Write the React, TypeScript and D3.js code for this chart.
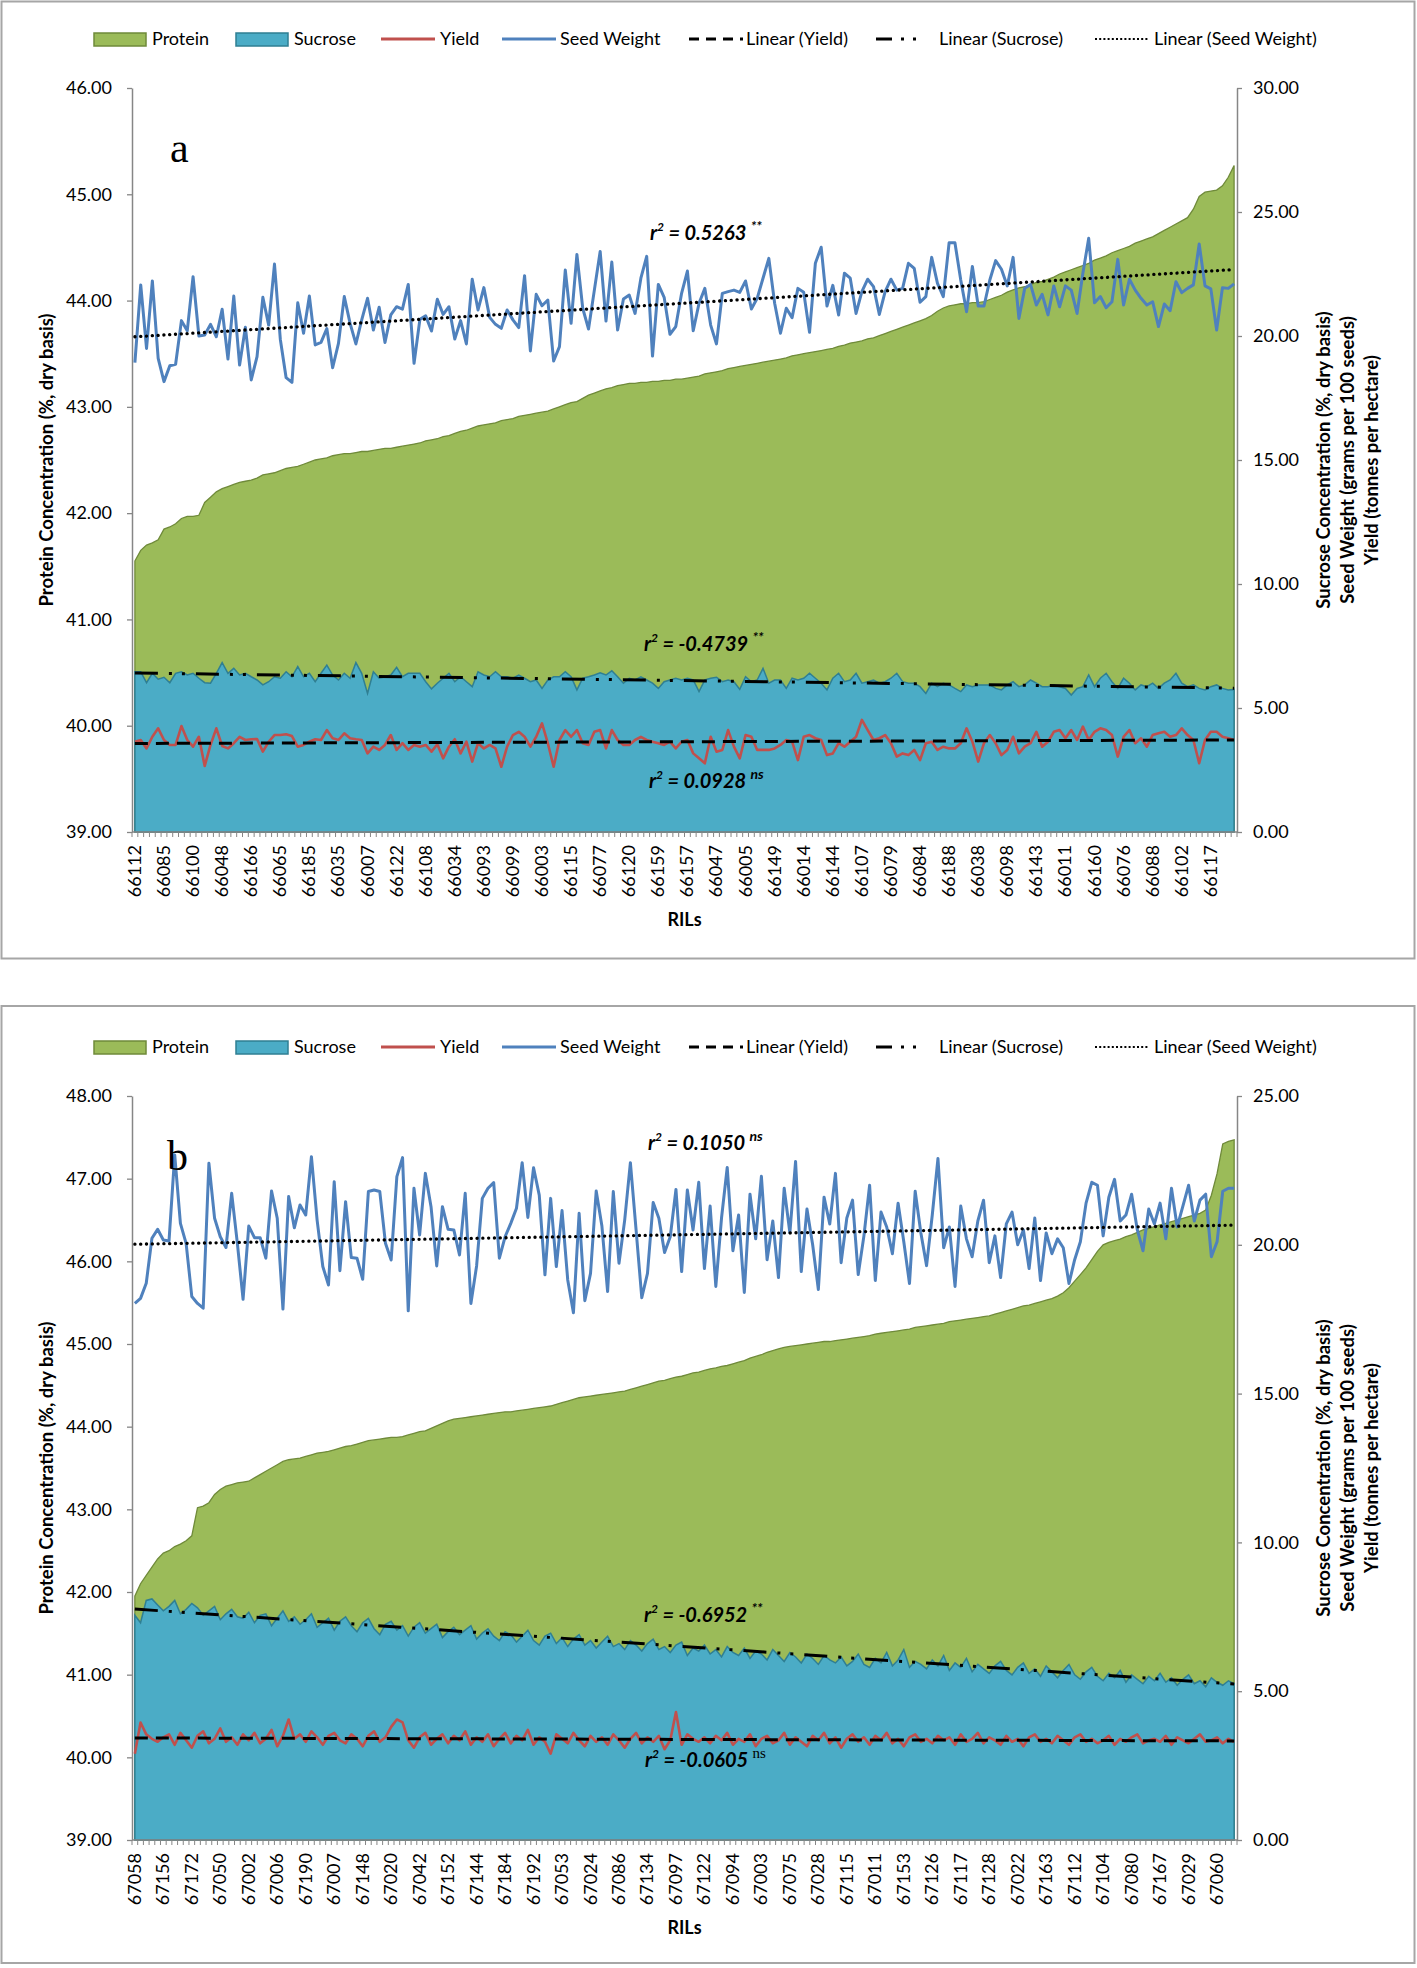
import React, { useEffect, useRef } from 'react';
import * as d3 from 'd3';

const W = 1417;
const H = 1968;
const FONT = "Lato, 'Open Sans', sans-serif";

// ---------------- Panel a ----------------
const labelsA = ['66112','66085','66100','66048','66166','66065','66185','66035','66007','66122','66108','66034','66093','66099','66003','66115','66077','66120','66159','66157','66047','66005','66149','66014','66144','66107','66079','66084','66188','66038','66098','66143','66011','66160','66076','66088','66102','66117'];

const proteinA = [41.55,41.65,41.70,41.72,41.75,41.85,41.87,41.90,41.95,41.97,41.97,41.98,42.10,42.15,42.20,42.23,42.25,42.27,42.29,42.30,42.31,42.33,42.36,42.37,42.38,42.40,42.42,42.43,42.44,42.46,42.48,42.50,42.51,42.52,42.54,42.55,42.56,42.56,42.57,42.58,42.58,42.59,42.60,42.61,42.61,42.62,42.63,42.64,42.65,42.66,42.68,42.69,42.70,42.72,42.73,42.75,42.77,42.78,42.80,42.82,42.83,42.84,42.85,42.87,42.88,42.89,42.91,42.92,42.93,42.94,42.95,42.96,42.98,43.00,43.02,43.04,43.05,43.08,43.11,43.13,43.15,43.17,43.18,43.20,43.21,43.22,43.22,43.23,43.23,43.24,43.24,43.25,43.25,43.26,43.26,43.27,43.28,43.29,43.31,43.32,43.33,43.34,43.36,43.37,43.38,43.39,43.40,43.41,43.42,43.43,43.44,43.45,43.46,43.48,43.49,43.50,43.51,43.52,43.53,43.54,43.55,43.57,43.58,43.60,43.61,43.62,43.64,43.65,43.67,43.69,43.71,43.73,43.75,43.77,43.79,43.81,43.83,43.86,43.90,43.93,43.95,43.96,43.97,43.97,43.98,43.98,43.99,44.01,44.03,44.05,44.08,44.10,44.12,44.13,44.15,44.17,44.18,44.20,44.22,44.25,44.27,44.29,44.31,44.33,44.35,44.38,44.40,44.42,44.45,44.47,44.49,44.51,44.54,44.56,44.58,44.60,44.63,44.66,44.69,44.72,44.75,44.78,44.86,44.98,45.02,45.03,45.04,45.08,45.16,45.27];

const sucroseA = [6.46,6.46,6.02,6.40,6.16,6.24,6.02,6.40,6.46,6.33,6.40,6.20,6.02,6.00,6.40,6.83,6.40,6.60,6.33,6.40,6.26,6.13,5.93,6.06,6.26,6.20,6.46,6.26,6.67,6.26,6.40,6.06,6.40,6.73,6.33,6.13,6.40,6.20,6.83,6.40,5.59,6.46,6.20,6.26,6.33,6.64,6.26,6.40,6.40,6.40,6.06,5.77,6.00,6.20,6.40,6.06,6.26,6.06,5.86,6.46,6.33,6.26,6.46,6.26,6.26,6.20,6.33,6.20,6.06,6.13,5.79,6.13,6.26,6.26,6.46,6.26,5.73,6.20,6.26,6.33,6.42,6.33,6.50,6.26,6.00,6.20,6.13,6.26,6.13,6.00,5.79,6.06,6.13,6.20,6.13,6.20,
6.13,5.66,6.13,6.20,6.24,6.06,6.13,6.06,5.75,6.26,6.06,6.13,6.60,6.00,6.13,6.13,5.79,6.20,6.13,6.20,6.40,6.20,6.00,5.73,6.20,6.40,6.06,6.13,6.40,6.00,6.06,6.13,6.00,6.06,6.20,6.40,6.06,6.00,6.00,5.86,5.59,6.00,5.86,6.00,5.93,5.79,5.66,5.93,5.86,5.93,5.93,5.93,5.79,5.73,5.93,6.06,5.86,5.93,6.13,6.00,5.86,5.86,5.93,5.86,5.79,5.52,5.79,5.86,6.33,5.86,6.20,6.40,6.06,5.79,6.20,6.00,5.73,5.93,5.86,6.00,5.79,6.00,6.13,6.40,6.00,5.86,5.93,5.79,5.73,5.86,5.93,5.79,5.73,5.75];

const yieldA = [3.64,3.71,3.37,3.84,4.18,3.71,3.51,3.51,4.27,3.71,3.44,3.84,2.66,3.51,4.18,3.47,3.37,3.58,3.84,3.71,3.74,3.75,3.24,3.64,3.91,3.91,3.94,3.87,3.44,3.51,3.64,3.74,3.71,4.11,3.78,3.71,3.98,3.78,3.74,3.71,3.17,3.44,3.31,3.51,3.91,3.31,3.58,3.31,3.51,3.44,3.51,3.24,3.54,2.97,3.44,3.74,3.17,3.64,2.84,3.58,3.37,3.51,3.37,2.63,3.44,3.91,4.04,3.84,3.44,3.84,4.38,3.58,2.63,3.71,4.11,3.84,4.11,3.58,3.51,4.04,4.11,3.37,4.11,3.71,3.51,3.51,3.71,3.84,3.71,3.64,3.58,3.51,3.64,3.37,3.64,3.71,
3.17,2.97,2.77,3.84,3.24,3.31,4.11,3.44,2.97,3.91,3.84,3.31,3.31,3.31,3.37,3.51,3.71,3.64,2.90,3.84,3.91,3.78,3.71,3.10,3.17,3.58,3.44,3.64,3.84,4.52,4.11,3.71,3.78,3.91,3.58,3.04,3.17,3.10,3.31,2.90,3.58,3.64,3.31,3.44,3.37,3.37,3.58,4.18,3.64,2.84,3.58,3.91,3.58,3.10,3.31,3.84,3.17,3.44,3.58,4.04,3.44,3.64,4.04,4.11,3.78,4.11,3.71,4.25,3.71,4.04,4.18,4.11,3.91,3.04,3.84,4.11,3.58,3.78,3.44,3.91,3.98,4.04,3.84,3.91,4.18,3.91,3.71,2.77,3.71,4.04,4.04,3.84,3.78,3.71];

const seedWeightA = [18.93,22.06,19.50,22.22,19.10,18.16,18.80,18.86,20.62,20.21,22.39,20.00,20.04,20.47,19.97,21.08,19.07,21.61,18.83,20.35,18.23,19.17,21.56,20.44,22.90,19.87,18.32,18.13,21.34,20.11,21.61,19.64,19.74,20.30,18.72,19.70,21.59,20.51,19.68,20.65,21.52,20.24,21.16,19.74,20.85,21.18,21.08,22.08,18.90,20.67,20.81,20.20,21.48,20.87,21.18,19.88,20.62,19.68,22.29,21.05,21.95,20.75,20.47,20.31,21.05,20.65,20.34,22.43,19.40,21.68,21.22,21.45,18.99,19.57,22.66,20.51,23.29,21.12,20.28,21.85,23.41,20.60,22.98,20.24,21.49,21.65,20.91,22.33,23.21,19.19,22.08,21.56,20.07,20.38,21.72,22.62,
20.21,21.32,21.92,20.44,19.68,21.72,21.79,21.85,21.76,22.22,21.09,21.52,22.33,23.13,21.32,20.11,21.12,20.74,21.92,21.76,20.15,22.93,23.58,21.21,22.04,20.85,22.53,22.33,20.91,21.79,22.29,21.99,20.87,21.79,22.29,21.85,21.92,22.93,22.73,21.36,21.59,23.17,22.12,21.59,23.76,23.76,22.26,20.98,22.80,21.21,21.21,22.26,23.04,22.69,22.02,23.17,20.71,21.92,22.08,21.25,21.68,20.85,22.02,21.18,22.02,21.85,20.91,22.53,23.94,21.34,21.59,21.14,21.38,23.09,21.25,22.29,21.85,21.52,21.25,21.38,20.38,21.29,21.02,22.19,21.75,21.92,22.06,23.71,22.02,21.90,20.24,21.95,21.92,22.10];

const trendYieldA = [3.57, 3.71];
const trendSucroseA = [6.41, 5.80];
const trendSeedA = [19.97, 22.68];
const r2A = ['0.5263', '-0.4739', '0.0928'];
const sigA = ['**', '**', 'ns'];

// ---------------- Panel b ----------------
const labelsB = ['67058','67156','67172','67050','67002','67006','67190','67007','67148','67020','67042','67152','67144','67184','67192','67053','67024','67086','67134','67097','67122','67094','67003','67075','67028','67115','67011','67153','67126','67117','67128','67022','67163','67112','67104','67080','67167','67029','67060'];

const proteinB = [41.95,42.10,42.20,42.30,42.40,42.47,42.50,42.55,42.58,42.62,42.68,43.02,43.04,43.08,43.18,43.24,43.28,43.30,43.32,43.33,43.34,43.38,43.42,43.46,43.50,43.54,43.58,43.60,43.61,43.62,43.64,43.66,43.68,43.69,43.70,43.72,43.74,43.76,43.77,43.79,43.81,43.83,43.84,43.85,43.86,43.87,43.87,43.88,43.90,43.92,43.94,43.95,43.98,44.01,44.04,44.07,44.09,44.10,44.11,44.12,44.13,44.14,44.15,44.16,44.17,44.18,44.18,44.19,44.20,44.21,44.22,44.23,44.24,44.25,44.27,44.29,44.31,44.33,44.35,44.36,44.37,44.38,44.39,44.40,44.41,44.42,44.43,44.45,44.47,44.49,44.51,44.53,44.55,44.56,44.58,44.60,44.61,44.63,44.65,44.66,44.68,44.70,44.71,44.73,44.74,44.76,44.78,44.80,44.83,44.85,44.87,44.90,44.92,44.94,44.96,44.97,44.98,44.99,45.00,45.01,45.02,45.03,45.03,45.04,45.05,45.06,45.07,45.08,45.09,45.10,45.12,45.13,45.14,45.15,45.16,45.17,45.18,45.20,45.21,45.22,45.23,45.24,45.25,45.27,45.28,45.29,45.30,45.31,45.32,45.33,45.34,45.36,45.38,45.40,45.42,45.44,45.46,45.47,45.49,45.51,45.53,45.55,45.58,45.62,45.68,45.76,45.84,45.92,46.02,46.12,46.20,46.23,46.25,46.27,46.30,46.32,46.35,46.38,46.40,46.42,46.44,46.46,46.48,46.50,46.52,46.54,46.56,46.58,46.62,46.80,47.06,47.42,47.45,47.47];

const sucroseB = [7.55,7.30,8.05,8.10,7.90,7.70,7.85,8.05,7.60,7.75,7.95,7.80,7.55,7.70,7.85,7.40,7.60,7.75,7.50,7.45,7.65,7.30,7.55,7.60,7.20,7.45,7.70,7.35,7.50,7.25,7.40,7.60,7.15,7.30,7.45,7.05,7.35,7.50,7.20,7.00,7.30,7.45,7.10,6.90,7.25,7.35,7.05,7.20,6.85,7.15,7.30,6.95,7.10,7.25,6.80,7.00,7.15,6.90,7.05,7.20,6.75,6.95,7.10,6.85,6.70,7.00,6.90,6.65,6.85,7.05,6.70,6.55,6.85,6.95,6.60,6.80,6.50,6.75,6.90,6.55,6.70,6.45,6.65,6.85,6.50,6.60,6.40,6.70,6.55,6.35,6.60,6.75,6.40,6.50,6.30,6.55,6.65,6.20,6.45,6.35,6.55,6.25,6.40,6.15,6.50,6.30,6.20,6.45,6.10,6.35,6.25,6.05,6.40,6.20,6.00,6.30,6.15,5.95,6.25,6.10,5.90,6.20,6.05,5.95,6.15,5.85,6.00,6.25,5.90,5.80,6.10,5.95,6.30,5.85,6.05,6.40,5.80,6.00,5.90,5.75,6.05,5.85,6.20,5.70,5.95,5.80,6.10,5.65,5.90,5.75,5.60,5.85,6.00,5.70,5.55,5.80,5.95,5.60,5.75,5.50,5.85,5.65,5.45,5.70,5.90,5.55,5.40,5.65,5.80,5.50,5.35,5.60,5.45,5.70,5.30,5.55,5.40,5.25,5.50,5.35,5.60,5.30,5.45,5.20,5.40,5.55,5.25,5.35,5.15,5.45,5.30,5.20,5.35,5.25];

const yieldB = [2.90,3.95,3.55,3.40,3.30,3.45,3.55,3.20,3.60,3.35,3.10,3.50,3.65,3.25,3.40,3.75,3.30,3.45,3.20,3.55,3.35,3.60,3.25,3.40,3.70,3.15,3.50,4.05,3.40,3.55,3.30,3.65,3.45,3.20,3.50,3.60,3.35,3.25,3.55,3.40,3.15,3.50,3.65,3.30,3.45,3.80,4.05,3.95,3.35,3.10,3.45,3.60,3.20,3.40,3.55,3.25,3.50,3.35,3.65,3.20,3.45,3.30,3.55,3.15,3.40,3.60,3.25,3.50,3.35,3.70,3.20,3.45,3.30,2.90,3.55,3.40,3.25,3.60,3.35,3.15,3.50,3.30,3.45,3.20,3.55,3.35,3.10,3.40,3.60,3.25,3.45,3.30,3.50,3.05,3.35,4.30,3.20,3.55,3.40,3.30,3.45,3.25,3.50,3.35,3.60,3.20,3.40,3.30,3.55,3.15,3.40,3.50,3.25,3.35,3.60,3.20,3.45,3.30,3.15,3.50,3.35,3.60,3.25,3.45,3.10,3.40,3.55,3.30,3.45,3.20,3.50,3.35,3.60,3.25,3.40,3.15,3.45,3.55,3.30,3.40,3.25,3.50,3.35,3.45,3.20,3.55,3.30,3.40,3.60,3.25,3.45,3.35,3.20,3.50,3.30,3.40,3.15,3.45,3.55,3.30,3.40,3.25,3.50,3.35,3.20,3.45,3.55,3.30,3.40,3.25,3.35,3.50,3.20,3.40,3.30,3.45,3.55,3.25,3.35,3.40,3.30,3.50,3.20,3.45,3.35,3.25,3.40,3.55,3.30,3.35,3.45,3.25,3.40,3.30];

const seedWeightB = [18.03,18.20,18.71,20.22,20.52,20.16,20.13,23.02,20.72,20.05,18.26,18.03,17.87,22.74,20.89,20.27,19.91,21.73,20.05,18.17,20.63,20.24,20.24,19.55,21.81,20.89,17.84,21.62,20.57,21.34,21.00,22.96,20.83,19.27,18.65,22.12,19.13,21.45,19.57,19.55,18.84,21.79,21.84,21.79,20.05,19.49,22.29,22.93,17.78,21.90,20.33,22.40,21.28,19.29,21.28,20.52,20.50,19.66,21.73,18.03,19.29,21.56,21.90,22.09,19.55,20.27,20.72,21.23,22.76,20.92,22.59,21.67,18.99,21.56,19.27,21.15,18.82,17.72,21.06,18.12,19.04,21.81,20.63,18.43,21.79,19.38,20.83,22.76,20.50,18.22,19.04,21.42,20.89,19.74,20.27,21.86,19.10,21.84,
20.5,22.1,19.2,21.3,18.6,20.9,22.6,19.8,21.0,18.4,21.7,20.2,22.3,19.5,20.8,18.9,21.9,20.4,22.8,19.1,21.2,20.0,18.5,21.6,20.7,22.4,19.4,20.9,21.5,19.0,20.3,22.0,18.8,21.1,20.6,19.7,21.4,20.1,18.7,21.8,20.4,19.3,21.0,22.9,19.9,20.6,18.6,21.3,20.2,19.6,20.8,21.5,19.4,20.3,18.9,20.7,21.1,20.0,20.5,19.2,20.9,18.8,20.4,19.7,20.2,19.9,18.7,19.5,20.1,21.4,22.1,22.0,20.3,21.6,22.2,20.8,21.0,21.7,20.5,19.8,21.2,20.7,21.4,20.2,21.9,20.6,21.3,22.0,20.8,21.5,21.7,19.6,20.1,21.8,21.9,21.9];

const trendYieldB = [3.43, 3.33];
const trendSucroseB = [7.76, 5.24];
const trendSeedB = [20.02, 20.66];
const r2B = ['0.1050', '-0.6952', '-0.0605'];
const sigB = ['ns', '**', 'ns'];

// ---------------- Legend ----------------
const legendNames = ['Protein', 'Sucrose', 'Yield', 'Seed Weight', 'Linear (Yield)', 'Linear (Sucrose)', 'Linear (Seed Weight)'];

const C = {
  protein: '#9bbb59', proteinEdge: '#6f8a3a',
  sucrose: '#4bacc6', sucroseEdge: '#2f7f93',
  yield: '#c0504d', seed: '#4f81bd', axis: '#868686', border: '#a6a6a6',
};

const L = { left: 132, right: 1237, top: 88, bottom: 832 };

function drawPanel(svg: any, p: any) {
  const g = svg.append('g').attr('transform', `translate(0,${p.oy})`);
  const N = p.protein.length;
  g.append('rect').attr('x', 1.5).attr('y', p.borderTop).attr('width', W - 4).attr('height', 957)
    .attr('fill', '#fff').attr('stroke', C.border).attr('stroke-width', 2);

  const x = d3.scaleLinear().domain([0, N]).range([L.left, L.right]);
  const cx = (i: number) => x(i + 0.5);
  const yL = d3.scaleLinear().domain(p.leftDomain).range([L.bottom, L.top]);
  const yR = d3.scaleLinear().domain(p.rightDomain).range([L.bottom, L.top]);

  // legend
  const lg = g.append('g').attr('font-family', FONT).attr('font-size', 18);
  const lx = [94, 236, 381, 502, 689, 876, 1095];
  const ly = 39;
  lg.append('rect').attr('x', lx[0]).attr('y', ly - 6).attr('width', 52).attr('height', 13).attr('fill', C.protein).attr('stroke', C.proteinEdge).attr('stroke-width', 1.5);
  lg.append('rect').attr('x', lx[1]).attr('y', ly - 6).attr('width', 52).attr('height', 13).attr('fill', C.sucrose).attr('stroke', C.sucroseEdge).attr('stroke-width', 1.5);
  lg.append('line').attr('x1', lx[2]).attr('x2', lx[2] + 54).attr('y1', ly).attr('y2', ly).attr('stroke', C.yield).attr('stroke-width', 3);
  lg.append('line').attr('x1', lx[3]).attr('x2', lx[3] + 54).attr('y1', ly).attr('y2', ly).attr('stroke', C.seed).attr('stroke-width', 3);
  lg.append('line').attr('x1', lx[4]).attr('x2', lx[4] + 54).attr('y1', ly).attr('y2', ly).attr('stroke', '#000').attr('stroke-width', 3).attr('stroke-dasharray', '10 7');
  lg.append('line').attr('x1', lx[5]).attr('x2', lx[5] + 54).attr('y1', ly).attr('y2', ly).attr('stroke', '#000').attr('stroke-width', 3).attr('stroke-dasharray', '16 9 3 9 3 30');
  lg.append('line').attr('x1', lx[6]).attr('x2', lx[6] + 54).attr('y1', ly).attr('y2', ly).attr('stroke', '#000').attr('stroke-width', 2).attr('stroke-dasharray', '2 2.2');
  const tx = [152, 294, 440, 560, 746, 939, 1154];
  legendNames.forEach((n, i) => {
    lg.append('text').attr('x', tx[i]).attr('y', ly + 6).text(n).attr('fill', '#000');
  });

  // protein area
  const protArea = d3.area<number>().x((d, i) => cx(i)).y0(yL(p.leftDomain[0])).y1((d) => yL(d));
  g.append('path').datum(p.protein).attr('d', protArea as any).attr('fill', C.protein).attr('stroke', C.proteinEdge).attr('stroke-width', 1.3);
  const sucArea = d3.area<number>().x((d, i) => cx(i)).y0(yR(0)).y1((d) => yR(d));
  g.append('path').datum(p.sucrose).attr('d', sucArea as any).attr('fill', C.sucrose).attr('stroke', C.sucroseEdge).attr('stroke-width', 1.5);

  // axes
  const axL = g.append('g').attr('transform', `translate(${L.left},0)`)
    .call(d3.axisLeft(yL).tickValues(d3.range(p.leftDomain[0], p.leftDomain[1] + 0.5, 1)).tickFormat(d3.format('.2f')).tickSize(5).tickSizeOuter(0).tickPadding(15));
  const axR = g.append('g').attr('transform', `translate(${L.right},0)`)
    .call(d3.axisRight(yR).tickValues(d3.range(p.rightDomain[0], p.rightDomain[1] + 0.5, 5)).tickFormat(d3.format('.2f')).tickSize(5).tickSizeOuter(0).tickPadding(11));
  [axL, axR].forEach((a) => {
    a.select('.domain').attr('stroke', C.axis).attr('stroke-width', 1.5);
    a.selectAll('.tick line').attr('stroke', C.axis).attr('stroke-width', 1.3);
    a.selectAll('text').attr('font-family', FONT).attr('font-size', 18).attr('fill', '#000');
  });
  // bottom axis
  g.append('line').attr('x1', L.left).attr('x2', L.right).attr('y1', L.bottom).attr('y2', L.bottom).attr('stroke', C.axis).attr('stroke-width', 1.5);
  g.append('g').selectAll('line').data(d3.range(N + 1)).join('line')
    .attr('x1', (d) => x(d)).attr('x2', (d) => x(d)).attr('y1', L.bottom).attr('y2', L.bottom + 5)
    .attr('stroke', C.axis).attr('stroke-width', 1);
  g.append('g').selectAll('text').data(p.labels).join('text')
    .attr('transform', (d, k) => `translate(${cx(k * 5) + 6},${L.bottom + 13}) rotate(-90)`)
    .attr('text-anchor', 'end').attr('font-family', FONT).attr('font-size', 18).attr('fill', '#000')
    .text((d) => d);

  // lines
  const lineR = d3.line<number>().x((d, i) => cx(i)).y((d) => yR(d));
  g.append('path').datum(p.yield).attr('d', lineR as any).attr('fill', 'none').attr('stroke', C.yield).attr('stroke-width', 2.6).attr('stroke-linejoin', 'round');
  g.append('path').datum(p.seed).attr('d', lineR as any).attr('fill', 'none').attr('stroke', C.seed).attr('stroke-width', 3).attr('stroke-linejoin', 'round');

  // trendlines (two end values at first and last category)
  const trend = (vals: number[], dash: string, w: number, cap: string) => {
    g.append('line').attr('x1', cx(0)).attr('x2', cx(N - 1)).attr('y1', yR(vals[0])).attr('y2', yR(vals[1]))
      .attr('stroke', '#000').attr('stroke-width', w).attr('stroke-dasharray', dash).attr('stroke-linecap', cap);
  };
  trend(p.trendYield, '13 8', 3, 'butt');
  trend(p.trendSucrose, '23 11 3 10 3 11', 3, 'butt');
  trend(p.trendSeed, '0.1 5.7', 3.3, 'round');

  // r2 labels
  const r2 = (txt: string, sig: string, xx: number, yy: number, sigItalic: boolean) => {
    const t = g.append('text').attr('x', xx).attr('y', yy).attr('font-family', FONT).attr('font-size', 20)
      .attr('font-weight', 700).attr('font-style', 'italic').attr('fill', '#000');
    t.append('tspan').text('r');
    t.append('tspan').attr('dy', -9).attr('font-size', 12).text('2');
    t.append('tspan').attr('dy', 9).text(` = ${txt} `);
    const s = t.append('tspan').attr('dy', -9).attr('font-size', 14).text(sig);
    if (!sigItalic) s.attr('font-style', 'normal').attr('font-family', "'Liberation Serif', serif").attr('font-weight', 400).attr('font-size', 15);
  };
  r2(p.r2[0], p.sig[0], p.r2x[0], p.r2y[0], true);
  r2(p.r2[1], p.sig[1], p.r2x[1], p.r2y[1], true);
  r2(p.r2[2], p.sig[2], p.r2x[2], p.r2y[2], p.lastSigItalic);

  // titles
  g.append('text').attr('transform', `translate(46,${(L.top + L.bottom) / 2}) rotate(-90)`)
    .attr('text-anchor', 'middle').attr('dominant-baseline', 'central').attr('font-family', FONT).attr('font-size', 18.5).attr('font-weight', 700)
    .text('Protein Concentration (%, dry basis)');
  const rt = ['Sucrose Concentration (%, dry basis)', 'Seed Weight (grams per 100 seeds)', 'Yield (tonnes per hectare)'];
  rt.forEach((s, k) => {
    g.append('text').attr('transform', `translate(${1323 + 24 * k},${(L.top + L.bottom) / 2}) rotate(-90)`)
      .attr('text-anchor', 'middle').attr('dominant-baseline', 'central').attr('font-family', FONT).attr('font-size', 18.5).attr('font-weight', 700)
      .text(s);
  });
  g.append('text').attr('x', (L.left + L.right) / 2).attr('y', 926).attr('text-anchor', 'middle')
    .attr('font-family', FONT).attr('font-size', 18).attr('font-weight', 700).text('RILs');
  g.append('text').attr('x', p.letterX).attr('y', 162).attr('font-family', "'Liberation Serif', 'DejaVu Serif', serif").attr('font-size', 42).text(p.letter);
}

export default function App() {
  const ref = useRef<SVGSVGElement>(null);
  useEffect(() => {
    const svg = d3.select(ref.current);
    svg.selectAll('*').remove();
    svg.append('rect').attr('width', W).attr('height', H).attr('fill', '#fff');
    drawPanel(svg, {
      oy: 0, borderTop: 1.5, protein: proteinA, sucrose: sucroseA, yield: yieldA, seed: seedWeightA, labels: labelsA,
      leftDomain: [39, 46], rightDomain: [0, 30], trendYield: trendYieldA, trendSucrose: trendSucroseA, trendSeed: trendSeedA,
      r2: r2A, sig: sigA, r2x: [650, 644, 649], r2y: [240, 651, 788], lastSigItalic: true, letter: 'a', letterX: 170,
    });
    drawPanel(svg, {
      oy: 1008, borderTop: -2, protein: proteinB, sucrose: sucroseB, yield: yieldB, seed: seedWeightB, labels: labelsB,
      leftDomain: [39, 48], rightDomain: [0, 25], trendYield: trendYieldB, trendSucrose: trendSucroseB, trendSeed: trendSeedB,
      r2: r2B, sig: sigB, r2x: [648, 644, 645], r2y: [142, 614, 759], lastSigItalic: false, letter: 'b', letterX: 167,
    });
  }, []);
  return (
    <div style={{ position: 'absolute', left: 0, top: 0 }}>
      <svg ref={ref} width={W} height={H} style={{ display: 'block' }} />
    </div>
  );
}
